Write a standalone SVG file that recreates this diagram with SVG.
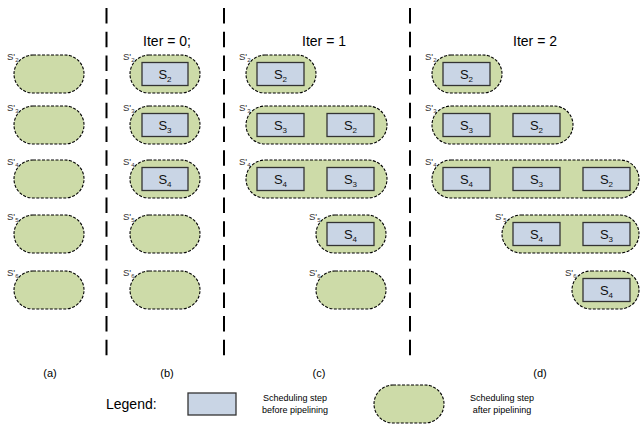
<svg xmlns="http://www.w3.org/2000/svg" width="640" height="426" viewBox="0 0 640 426">
<style>
.pill{fill:#cddba8;stroke:#000;stroke-width:1.1;stroke-dasharray:3 1.5}
.box{fill:#c9d5e5;stroke:#333;stroke-width:1.3}
.bt{font-family:"Liberation Sans",Arial,sans-serif;font-size:13px;fill:#111;text-anchor:middle}
.sub{font-size:8px}
.lb{font-family:"Liberation Sans",Arial,sans-serif;font-size:9.5px;fill:#333}
.lsub{font-size:6px}
.div{stroke:#000;stroke-width:2;stroke-dasharray:15.5 8.2}
.title{font-family:"Liberation Sans",Arial,sans-serif;font-size:14px;fill:#000;text-anchor:middle}
.cap{font-family:"Liberation Sans",Arial,sans-serif;font-size:11px;fill:#000;text-anchor:middle}
.leg{font-family:"Liberation Sans",Arial,sans-serif;font-size:9px;fill:#000;text-anchor:middle}
</style>
<rect width="640" height="426" fill="#fff"/>
<g id="dividers">
<line class="div" x1="106.5" y1="8" x2="106.5" y2="357"/>
<line class="div" x1="224" y1="8" x2="224" y2="357"/>
<line class="div" x1="410" y1="8" x2="410" y2="357"/>
</g>
<g id="titles">
<text class="title" x="167" y="46">Iter = 0;</text>
<text class="title" x="324" y="46">Iter = 1</text>
<text class="title" x="535" y="46">Iter = 2</text>
<text class="cap" x="50" y="377">(a)</text>
<text class="cap" x="167" y="377">(b)</text>
<text class="cap" x="319" y="377">(c)</text>
<text class="cap" x="540" y="377">(d)</text>
</g>
<g id="col-a">
<rect class="pill" x="14" y="55" width="70" height="38" rx="19"/>
<rect class="pill" x="14" y="106" width="70" height="38" rx="19"/>
<rect class="pill" x="14" y="160" width="70" height="38" rx="19"/>
<rect class="pill" x="14" y="215" width="70" height="38" rx="19"/>
<rect class="pill" x="14" y="271" width="70" height="38" rx="19"/>
<text class="lb" x="7" y="60">S'<tspan class="lsub" dy="2">2</tspan></text>
<text class="lb" x="7" y="111">S'<tspan class="lsub" dy="2">3</tspan></text>
<text class="lb" x="7" y="165">S'<tspan class="lsub" dy="2">4</tspan></text>
<text class="lb" x="7" y="220">S'<tspan class="lsub" dy="2">5</tspan></text>
<text class="lb" x="7" y="276">S'<tspan class="lsub" dy="2">6</tspan></text>
</g>
<g id="col-b">
<rect class="pill" x="130" y="55" width="70" height="38" rx="19"/>
<rect class="pill" x="130" y="106" width="70" height="38" rx="19"/>
<rect class="pill" x="130" y="160" width="70" height="38" rx="19"/>
<rect class="pill" x="130" y="215" width="70" height="38" rx="19"/>
<rect class="pill" x="130" y="271" width="70" height="38" rx="19"/>
<rect class="box" x="142" y="62.5" width="46" height="23"/>
<rect class="box" x="142" y="113.5" width="46" height="23"/>
<rect class="box" x="142" y="167.5" width="46" height="23"/>
<text class="bt" x="165" y="79">S<tspan class="sub" dy="3">2</tspan></text>
<text class="bt" x="165" y="130">S<tspan class="sub" dy="3">3</tspan></text>
<text class="bt" x="165" y="184">S<tspan class="sub" dy="3">4</tspan></text>
<text class="lb" x="123" y="60">S'<tspan class="lsub" dy="2">2</tspan></text>
<text class="lb" x="123" y="111">S'<tspan class="lsub" dy="2">3</tspan></text>
<text class="lb" x="123" y="165">S'<tspan class="lsub" dy="2">4</tspan></text>
<text class="lb" x="123" y="220">S'<tspan class="lsub" dy="2">5</tspan></text>
<text class="lb" x="123" y="276">S'<tspan class="lsub" dy="2">6</tspan></text>
</g>
<g id="col-c">
<rect class="pill" x="246" y="55" width="70" height="38" rx="19"/>
<rect class="pill" x="246" y="106" width="141" height="38" rx="19"/>
<rect class="pill" x="246" y="160" width="141" height="38" rx="19"/>
<rect class="pill" x="316" y="215" width="70" height="38" rx="19"/>
<rect class="pill" x="316" y="271" width="70" height="38" rx="19"/>
<rect class="box" x="257" y="62.5" width="47" height="23"/>
<rect class="box" x="257" y="113.5" width="47" height="23"/>
<rect class="box" x="327" y="113.5" width="47" height="23"/>
<rect class="box" x="257" y="167.5" width="47" height="23"/>
<rect class="box" x="327" y="167.5" width="47" height="23"/>
<rect class="box" x="327" y="222.5" width="47" height="23"/>
<text class="bt" x="280.5" y="79">S<tspan class="sub" dy="3">2</tspan></text>
<text class="bt" x="280.5" y="130">S<tspan class="sub" dy="3">3</tspan></text>
<text class="bt" x="350.5" y="130">S<tspan class="sub" dy="3">2</tspan></text>
<text class="bt" x="280.5" y="184">S<tspan class="sub" dy="3">4</tspan></text>
<text class="bt" x="350.5" y="184">S<tspan class="sub" dy="3">3</tspan></text>
<text class="bt" x="350.5" y="239">S<tspan class="sub" dy="3">4</tspan></text>
<text class="lb" x="239" y="60">S'<tspan class="lsub" dy="2">2</tspan></text>
<text class="lb" x="239" y="111">S'<tspan class="lsub" dy="2">3</tspan></text>
<text class="lb" x="239" y="165">S'<tspan class="lsub" dy="2">4</tspan></text>
<text class="lb" x="309" y="220">S'<tspan class="lsub" dy="2">5</tspan></text>
<text class="lb" x="309" y="276">S'<tspan class="lsub" dy="2">6</tspan></text>
</g>
<g id="col-d">
<rect class="pill" x="432" y="55" width="70" height="38" rx="19"/>
<rect class="pill" x="432" y="106" width="141" height="38" rx="19"/>
<rect class="pill" x="432" y="160" width="207" height="38" rx="19"/>
<rect class="pill" x="502" y="215" width="137" height="38" rx="19"/>
<rect class="pill" x="572" y="271" width="67" height="38" rx="19"/>
<rect class="box" x="443" y="62.5" width="47" height="23"/>
<rect class="box" x="443" y="113.5" width="47" height="23"/>
<rect class="box" x="513" y="113.5" width="47" height="23"/>
<rect class="box" x="443" y="167.5" width="47" height="23"/>
<rect class="box" x="513" y="167.5" width="47" height="23"/>
<rect class="box" x="583" y="167.5" width="47" height="23"/>
<rect class="box" x="513" y="222.5" width="47" height="23"/>
<rect class="box" x="583" y="222.5" width="47" height="23"/>
<rect class="box" x="583" y="278.5" width="47" height="23"/>
<text class="bt" x="466.5" y="79">S<tspan class="sub" dy="3">2</tspan></text>
<text class="bt" x="466.5" y="130">S<tspan class="sub" dy="3">3</tspan></text>
<text class="bt" x="536.5" y="130">S<tspan class="sub" dy="3">2</tspan></text>
<text class="bt" x="466.5" y="184">S<tspan class="sub" dy="3">4</tspan></text>
<text class="bt" x="536.5" y="184">S<tspan class="sub" dy="3">3</tspan></text>
<text class="bt" x="606.5" y="184">S<tspan class="sub" dy="3">2</tspan></text>
<text class="bt" x="536.5" y="239">S<tspan class="sub" dy="3">4</tspan></text>
<text class="bt" x="606.5" y="239">S<tspan class="sub" dy="3">3</tspan></text>
<text class="bt" x="606.5" y="295">S<tspan class="sub" dy="3">4</tspan></text>
<text class="lb" x="425" y="60">S'<tspan class="lsub" dy="2">2</tspan></text>
<text class="lb" x="425" y="111">S'<tspan class="lsub" dy="2">3</tspan></text>
<text class="lb" x="425" y="165">S'<tspan class="lsub" dy="2">4</tspan></text>
<text class="lb" x="495" y="220">S'<tspan class="lsub" dy="2">5</tspan></text>
<text class="lb" x="565" y="276">S'<tspan class="lsub" dy="2">6</tspan></text>
</g>
<g id="legend">
<text x="106" y="409" font-family="Liberation Sans, Arial, sans-serif" font-size="14">Legend:</text>
<rect class="box" x="188" y="393" width="48" height="22"/>
<text class="leg" x="295" y="401">Scheduling step</text>
<text class="leg" x="295" y="413">before pipelining</text>
<rect class="pill" x="374" y="385" width="70" height="38" rx="19"/>
<text class="leg" x="502" y="401">Scheduling step</text>
<text class="leg" x="502" y="413">after pipelining</text>
</g>
</svg>
